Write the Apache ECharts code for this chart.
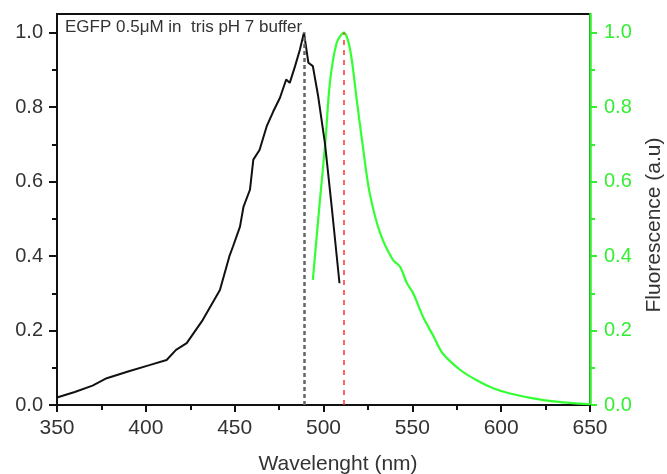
<!DOCTYPE html>
<html>
<head>
<meta charset="utf-8">
<script src="https://cdn.jsdelivr.net/npm/echarts@6/dist/echarts.min.js"></script>
<style>
html,body{margin:0;padding:0;background:#fff;}
#main{width:667px;height:474px;}
</style>
</head>
<body>
<div id="main"></div>
<script>
// absorbance (black)
var absWl  = [350,360,370,378,390,402,411.7,417,423,432,441.7,447,449,453,455,458.6,460.5,464,468,471.7,475.5,479,481,484,486.7,489,491.5,494,497,500.8,504.6,509];
var absVal = [0.02,0.035,0.052,0.072,0.09,0.107,0.121,0.148,0.166,0.228,0.309,0.399,0.425,0.479,0.533,0.578,0.659,0.685,0.748,0.788,0.825,0.874,0.865,0.91,0.954,1.0,0.919,0.91,0.829,0.703,0.533,0.327];
// fluorescence (green)
var fluWl  = [494,498,501,503.6,507.4,511.5,515,518.7,522.4,526,532,539,543,547,550.5,556,562,567,577,586,595.5,605,618,631,640,650];
var fluVal = [0.336,0.55,0.703,0.865,0.972,1.0,0.954,0.82,0.685,0.569,0.46,0.39,0.372,0.327,0.30,0.237,0.184,0.139,0.094,0.067,0.045,0.031,0.018,0.009,0.005,0.002];
var absPeak = 489;
var fluPeak = 511.5;
var yTicks = [0,0.2,0.4,0.6,0.8,1.0];

function pairs(xs,ys){
	var out=[];
	for(var i=0;i<xs.length;i++) out.push([xs[i],ys[i]]);
	return out;
}

var FONT = 'Liberation Sans';
var myecharts = echarts.init(document.getElementById('main'));
var option = {
	animation:false,
	backgroundColor:'#fff',
	grid:{left:57,right:77,top:14,bottom:69,outerBoundsMode:'none',containLabel:false,
		show:true,borderColor:'#111',borderWidth:2,backgroundColor:'transparent'},
	graphic:[
		{type:'text',x:65,y:19,style:{text:'EGFP 0.5\u03bcM in  tris pH 7 buffer',fill:'#333',font:'17px "Liberation Sans"'}},
		{type:'text',x:338,y:464,style:{text:'Wavelenght (nm)',fill:'#333',font:'21px "Liberation Sans"',align:'center',verticalAlign:'middle'}},
		{type:'text',x:654,y:225,rotation:Math.PI/2,style:{text:'Fluorescence (a.u)',fill:'#333',font:'21px "Liberation Sans"',align:'center',verticalAlign:'middle'}}
	],
	xAxis:{
		type:'value',min:350,max:650,interval:50,
		axisLine:{lineStyle:{color:'#111',width:2}},
		axisTick:{length:7,lineStyle:{color:'#111',width:2}},
		minorTick:{show:true,splitNumber:2,length:5,lineStyle:{color:'#111',width:2}},
		splitLine:{show:false},
		axisLabel:{color:'#333',fontSize:21,fontFamily:FONT,margin:13}
	},
	yAxis:[{
		type:'value',min:0,max:1.05,interval:0.2,position:'left',
		axisLine:{show:true,lineStyle:{color:'#111',width:2}},
		axisTick:{show:true,length:8,lineStyle:{color:'#111',width:2},customValues:yTicks},
		minorTick:{show:true,splitNumber:2,length:5,lineStyle:{color:'#111',width:2}},
		splitLine:{show:false},
		axisLabel:{color:'#333',fontSize:20,fontFamily:FONT,margin:14,customValues:yTicks,
			formatter:function(v){return v.toFixed(1);}}
	},{
		type:'value',min:0,max:1.05,interval:0.2,position:'right',
		axisLine:{show:true,lineStyle:{color:'#33ee33',width:2.5}},
		axisTick:{show:true,length:7,lineStyle:{color:'#33ee33',width:2},customValues:yTicks},
		minorTick:{show:true,splitNumber:2,length:5,lineStyle:{color:'#33ee33',width:2}},
		splitLine:{show:false},
		axisLabel:{color:'#33ee33',fontSize:20,fontFamily:FONT,margin:14,customValues:yTicks,
			formatter:function(v){return v.toFixed(1);}}
	}],
	series:[{
		name:'Absorbance',type:'line',yAxisIndex:0,showSymbol:false,symbol:'none',
		data:pairs(absWl,absVal),
		lineStyle:{color:'#111',width:2},
		z:3,
		markLine:{silent:true,symbol:'none',label:{show:false},
			lineStyle:{color:'#666',width:2.5,type:[4,3]},
			data:[[{coord:[absPeak,0]},{coord:[absPeak,1.0]}]]}
	},{
		name:'Fluorescence',type:'line',yAxisIndex:1,showSymbol:false,symbol:'none',smooth:0.3,
		data:pairs(fluWl,fluVal),
		lineStyle:{color:'#33ff33',width:2.2},
		z:2,
		markLine:{silent:true,symbol:'none',label:{show:false},
			lineStyle:{color:'#ff3333',width:1.5,type:[5,5]},
			data:[[{coord:[fluPeak,0]},{coord:[fluPeak,1.0]}]]}
	}]
};
myecharts.setOption(option);
</script>
</body>
</html>
